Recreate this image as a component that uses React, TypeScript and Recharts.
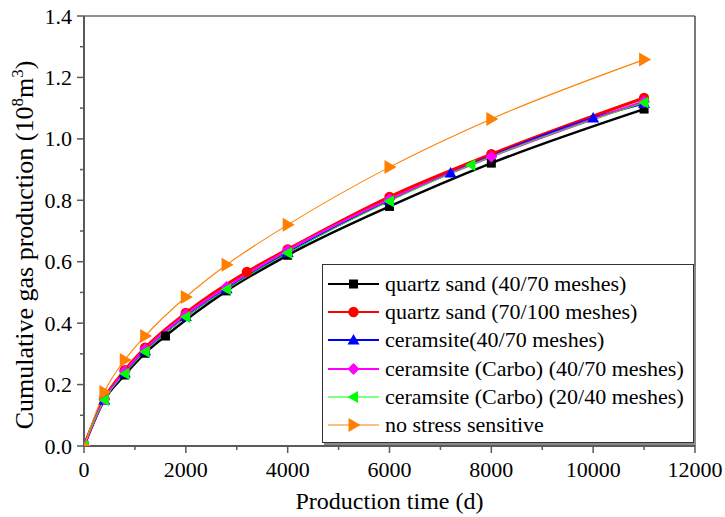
import React from 'react';
import { LineChart, Line, XAxis, YAxis, ReferenceLine, Legend } from 'recharts';

// ---- data ----
const blackT = [0, 400, 800, 1200, 1600, 2800, 4000, 6000, 8000, 11000];
const blackV = [0, 0.15, 0.231, 0.302, 0.358, 0.505, 0.621, 0.78, 0.921, 1.097];

const redT = [0, 400, 800, 1200, 2000, 3200, 4000, 6000, 8000, 11000];
const redV = [0, 0.155, 0.247, 0.32, 0.433, 0.567, 0.64, 0.811, 0.95, 1.133];

const blueT = [0, 400, 800, 1200, 2000, 2800, 4000, 6000, 7200, 10000, 11000];
const blueV = [0, 0.15, 0.238, 0.31, 0.422, 0.512, 0.63, 0.8, 0.889, 1.068, 1.115];

const magentaT = [0, 400, 800, 1200, 2000, 2800, 4000, 6000, 8000, 11000];
const magentaV = [0, 0.152, 0.243, 0.315, 0.428, 0.518, 0.637, 0.803, 0.942, 1.122];

const greenT = [0, 400, 800, 1200, 2000, 2800, 4000, 6000, 7600, 11000];
const greenV = [0, 0.15, 0.235, 0.307, 0.42, 0.51, 0.628, 0.797, 0.915, 1.118];

const orangeT = [0, 400, 800, 1200, 2000, 2800, 4000, 6000, 8000, 11000];
const orangeV = [0, 0.176, 0.28, 0.358, 0.485, 0.59, 0.72, 0.908, 1.065, 1.258];

const xTicks = [0, 1000, 2000, 3000, 4000, 5000, 6000, 7000, 8000, 9000, 10000, 11000, 12000];
const yTicks = [0, 0.1, 0.2, 0.3, 0.4, 0.5, 0.6, 0.7, 0.8, 0.9, 1.0, 1.1, 1.2, 1.3, 1.4];

const names = [
  'quartz sand (40/70 meshes)',
  'quartz sand (70/100 meshes)',
  'ceramsite(40/70 meshes)',
  'ceramsite (Carbo) (40/70 meshes)',
  'ceramsite (Carbo) (20/40 meshes)',
  'no stress sensitive',
];

const zip = (t: number[], v: number[]) => t.map((x, i) => ({ t: x, v: v[i] }));

const FONT = '"Liberation Serif"';
const AXIS = '#5a5a5a';

type Shape = 'square' | 'circle' | 'up' | 'diamond' | 'left' | 'right';

const markerPath = (shape: Shape, cx: number, cy: number): string => {
  switch (shape) {
    case 'square':
      return `M${cx - 4.5},${cy - 4.5}h9v9h-9z`;
    case 'up':
      return `M${cx},${cy - 6}L${cx + 6},${cy + 4.5}L${cx - 6},${cy + 4.5}z`;
    case 'diamond':
      return `M${cx},${cy - 6}L${cx + 6},${cy}L${cx},${cy + 6}L${cx - 6},${cy}z`;
    case 'left':
      return `M${cx - 6},${cy}L${cx + 4.5},${cy - 6}L${cx + 4.5},${cy + 6}z`;
    case 'right':
      return `M${cx + 7},${cy}L${cx - 5},${cy - 7}L${cx - 5},${cy + 7}z`;
    default:
      return '';
  }
};

const Marker = ({ shape, cx, cy, color }: { shape: Shape; cx: number; cy: number; color: string }) =>
  shape === 'circle' ? (
    <circle cx={cx} cy={cy} r={5.2} fill={color} stroke="none" />
  ) : (
    <path d={markerPath(shape, cx, cy)} fill={color} stroke="none" />
  );

const series = [
  { name: names[0], data: zip(blackT, blackV), color: '#000000', width: 2.4, shape: 'square' as Shape },
  { name: names[1], data: zip(redT, redV), color: '#ff0000', width: 3, shape: 'circle' as Shape },
  { name: names[2], data: zip(blueT, blueV), color: '#0000ff', width: 2, shape: 'up' as Shape },
  { name: names[3], data: zip(magentaT, magentaV), color: '#ff00ff', width: 2.2, shape: 'diamond' as Shape },
  { name: names[4], data: zip(greenT, greenV), color: '#00ff00', width: 1, shape: 'left' as Shape },
  { name: names[5], data: zip(orangeT, orangeV), color: '#ff8000', width: 1.1, shape: 'right' as Shape },
];

const XTick = (props: any) => {
  const { x, y, payload } = props;
  const major = payload.value % 2000 === 0;
  return (
    <g>
      <line x1={x} x2={x} y1={y} y2={y + (major ? 7 : 4)} stroke={AXIS} strokeWidth={1.5} />
      {major && (
        <text x={x} y={y + 31} textAnchor="middle" fontSize={22} style={{ fontFamily: FONT }} fill="#000">
          {payload.value}
        </text>
      )}
    </g>
  );
};

const YTick = (props: any) => {
  const { x, y, payload } = props;
  const major = Math.round(payload.value * 10) % 2 === 0;
  return (
    <g>
      <line x1={x} x2={x - (major ? 7 : 4)} y1={y} y2={y} stroke={AXIS} strokeWidth={1.5} />
      {major && (
        <text x={x - 12} y={y + 7.5} textAnchor="end" fontSize={22} style={{ fontFamily: FONT }} fill="#000">
          {payload.value.toFixed(1)}
        </text>
      )}
    </g>
  );
};

const YTitle = () => (
  <text
    x={33}
    y={245}
    transform="rotate(-90, 33, 245)"
    textAnchor="middle"
    fontSize={26}
    style={{ fontFamily: FONT }}
    fill="#000"
  >
    Cumulative gas production (10
    <tspan dy={-10} fontSize={17}>8</tspan>
    <tspan dy={10}>m</tspan>
    <tspan dy={-10} fontSize={17}>3</tspan>
    <tspan dy={10}>)</tspan>
  </text>
);

const XTitle = (props: any) => {
  const vb = props.viewBox || {};
  const cx = (vb.x ?? 84) + (vb.width ?? 611) / 2;
  return (
    <text x={cx} y={509} textAnchor="middle" fontSize={24} style={{ fontFamily: FONT }} fill="#000">
      Production time (d)
    </text>
  );
};

const LegendBox = () => (
  <div
    style={{
      position: 'relative',
      width: 370,
      height: 177,
      border: '1px solid #333',
      boxShadow: '2px 2px 0 #8a8a8a',
      background: '#fff',
      fontFamily: FONT,
      fontSize: 22,
      color: '#000',
    }}
  >
    {series.map((s, i) => (
      <div
        key={s.name}
        style={{ position: 'absolute', left: 0, top: 5 + i * 28.2, height: 28, width: 370, whiteSpace: 'nowrap' }}
      >
        <svg width={60} height={28} style={{ position: 'absolute', left: 0, top: 0 }}>
          <line x1={5} x2={56} y1={14} y2={14} stroke={s.color} strokeWidth={Math.min(s.width, 2)} />
          <Marker shape={s.shape} cx={30.5} cy={14} color={s.color} />
        </svg>
        <span style={{ position: 'absolute', left: 62, top: 0, lineHeight: '28px', fontFamily: FONT }}>{s.name}</span>
      </div>
    ))}
  </div>
);

export default function App() {
  return (
    <div style={{ position: 'fixed', left: 0, top: 0, width: 725, height: 517, background: '#fff', fontFamily: FONT }}>
      <LineChart width={725} height={517} margin={{ top: 16, right: 30, left: 0, bottom: 0 }}>
        <XAxis
          dataKey="t"
          type="number"
          domain={[0, 12000]}
          ticks={xTicks}
          interval={0}
          tick={<XTick />}
          tickLine={false}
          tickSize={0}
          tickMargin={0}
          height={71}
          axisLine={{ stroke: AXIS, strokeWidth: 2 }}
          allowDataOverflow
          label={<XTitle />}
        />
        <YAxis
          dataKey="v"
          type="number"
          domain={[0, 1.4]}
          ticks={yTicks}
          interval={0}
          tick={<YTick />}
          tickLine={false}
          tickSize={0}
          tickMargin={0}
          width={84}
          axisLine={{ stroke: AXIS, strokeWidth: 2 }}
          allowDataOverflow
          label={<YTitle />}
        />
        <ReferenceLine y={1.4} stroke="#222" strokeWidth={1.2} />
        <ReferenceLine x={12000} stroke="#222" strokeWidth={1.2} />
        {series.map((s) => (
          <Line
            key={s.name}
            data={s.data}
            dataKey="v"
            name={s.name}
            type="monotone"
            stroke={s.color}
            strokeWidth={s.width}
            isAnimationActive={false}
            dot={(p: any) => (
              <Marker key={`${s.name}-${p.index}`} shape={s.shape} cx={p.cx} cy={p.cy} color={s.color} />
            )}
            activeDot={false}
          />
        ))}
        <Legend
          layout="vertical"
          align="center"
          verticalAlign="middle"
          content={() => <LegendBox />}
          wrapperStyle={{ position: 'absolute', left: 322, top: 264, width: 372, height: 179 }}
        />
      </LineChart>
    </div>
  );
}
